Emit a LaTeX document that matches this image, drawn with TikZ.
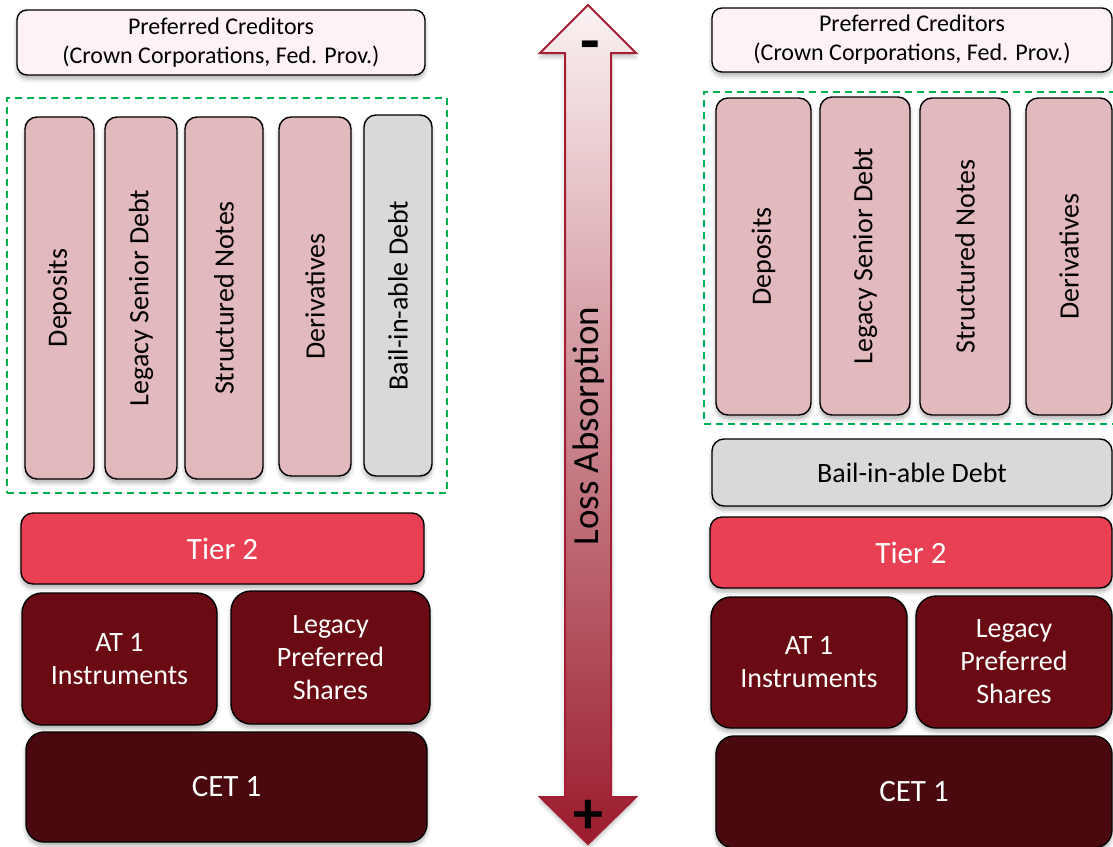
\documentclass[tikz,border=0pt]{standalone}
\usepackage{fontspec}
\setmainfont{Carlito}
\usetikzlibrary{shadows.blur}
\definecolor{credfill}{HTML}{FDF3F4}
\definecolor{claimpink}{HTML}{E2B9BD}
\definecolor{bailgrey}{HTML}{D9D9D9}
\definecolor{tiertwo}{HTML}{EA4053}
\definecolor{atone}{HTML}{6A0B14}
\definecolor{cetone}{HTML}{4A090F}
\definecolor{dashgreen}{HTML}{00B050}
\definecolor{losstop}{HTML}{FBF2F3}
\definecolor{lossbot}{HTML}{9A1B2B}
\definecolor{lossline}{HTML}{A31F31}

\begin{document}
\begin{tikzpicture}[x=1pt,y=-1pt,
  blk/.style={draw=black,line width=1.4pt,rounded corners=#1,inner sep=0pt,align=center,
    blur shadow={shadow xshift=0pt,shadow yshift=-4pt,shadow blur radius=4pt,shadow opacity=30}},
  blk/.default=12pt,
  sz/.style 2 args={minimum width=#1pt,minimum height=#2pt},
  credbox/.style={blk=10pt,fill=credfill,font=\fontsize{24}{29}\selectfont},
  claimbox/.style={blk,fill=claimpink},
  vtxt/.style={rotate=90,font=\fontsize{28}{33}\selectfont},
  zone/.style={draw=dashgreen,line width=1.8pt,dash pattern=on 7pt off 5pt,inner sep=0pt},
  capbox/.style={blk=#1,text=white,font=\fontsize{28}{33}\selectfont},
  bigtxt/.style={font=\fontsize{31}{36}\selectfont}]
\useasboundingbox (0,0) rectangle (1113,846);

% left stack
\node[credbox,sz={408}{65}] (credL) at (221,42.5) {Preferred Creditors\\(Crown Corporations, Fed. Prov.)};
\node[zone,sz={440}{395}] (zoneL) at (227,295.5) {};
\node[claimbox,sz={69}{362}] (depL) at (59.5,298) {};
\node[claimbox,sz={72}{362}] (lsdL) at (141,298) {};
\node[claimbox,sz={78}{362}] (strL) at (224,298) {};
\node[claimbox,sz={72}{359}] (derL) at (315,296.5) {};
\node[blk,fill=bailgrey,sz={68}{361}] (bailL) at (398,295.5) {};
\node[vtxt] (depLt) at (depL) {Deposits};
\node[vtxt] (lsdLt) at (lsdL) {Legacy Senior Debt};
\node[vtxt] (strLt) at (strL) {Structured Notes};
\node[vtxt] (derLt) at (derL) {Derivatives};
\node[vtxt] (bailLt) at (bailL) {Bail-in-able Debt};
\node[capbox=12pt,fill=tiertwo,bigtxt,sz={403}{71}] (t2L) at (222.5,548.5) {Tier 2};
\node[capbox=20pt,fill=atone,sz={195}{132}] (at1L) at (119.5,659) {AT 1\\Instruments};
\node[capbox=20pt,fill=atone,sz={199}{133}] (lpsL) at (330.5,657.5) {Legacy\\Preferred\\Shares};
\node[capbox=18pt,fill=cetone,bigtxt,sz={401}{110}] (cetL) at (226.5,787) {CET 1};

% loss absorption arrow
\draw[lossline,line width=2pt,top color=losstop,bottom color=lossbot,
  blur shadow={shadow xshift=0pt,shadow yshift=-4pt,shadow blur radius=4pt,shadow opacity=25}]
  (588,5) -- (636,53) -- (611,53) -- (611,797) -- (636,797) -- (588,844)
  -- (540,797) -- (565,797) -- (565,53) -- (540,53) -- cycle;
\node[rotate=90,font=\fontsize{37}{40}\selectfont] (loss) at (589,426) {Loss Absorption};
\node[font=\fontsize{64}{64}\bfseries,inner sep=0pt] (minus) at (590,52) {-};
\node[font=\fontsize{60}{60}\bfseries,inner sep=0pt] (plus) at (588,817) {+};

% right stack
\node[credbox,sz={400}{64}] (credR) at (912,40) {Preferred Creditors\\(Crown Corporations, Fed. Prov.)};
\node[zone,sz={496}{332}] (zoneR) at (952,258) {};
\node[claimbox,sz={95}{317}] (depR) at (763.5,256.5) {};
\node[claimbox,sz={90}{318}] (lsdR) at (865,256) {};
\node[claimbox,sz={90}{317}] (strR) at (965,256.5) {};
\node[claimbox,sz={86}{317}] (derR) at (1069,256.5) {};
\node[vtxt] (depRt) at (depR) {Deposits};
\node[vtxt] (lsdRt) at (lsdR) {Legacy Senior Debt};
\node[vtxt] (strRt) at (strR) {Structured Notes};
\node[vtxt] (derRt) at (derR) {Derivatives};
\node[blk,fill=bailgrey,font=\fontsize{28}{33}\selectfont,sz={400}{67}] (bailR) at (912,472.5) {Bail-in-able Debt};
\node[capbox=12pt,fill=tiertwo,bigtxt,sz={402}{71}] (t2R) at (911,552.5) {Tier 2};
\node[capbox=20pt,fill=atone,sz={196}{131}] (at1R) at (809,662.5) {AT 1\\Instruments};
\node[capbox=20pt,fill=atone,sz={196}{132}] (lpsR) at (1014,662) {Legacy\\Preferred\\Shares};
\node[capbox=18pt,fill=cetone,bigtxt,sz={396}{112}] (cetR) at (914,792) {CET 1};
\end{tikzpicture}
\end{document}
